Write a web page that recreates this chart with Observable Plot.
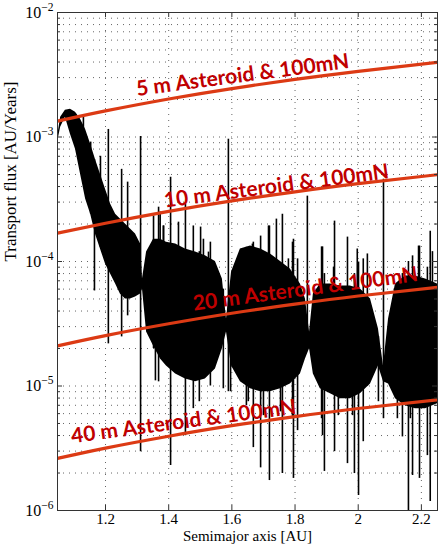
<!DOCTYPE html>
<html><head><meta charset="utf-8">
<script src="https://cdn.jsdelivr.net/npm/d3@7"></script>
<script src="https://cdn.jsdelivr.net/npm/@observablehq/plot@0.6"></script>
<style>body{margin:0;background:#fff}</style>
</head><body><div id="chart"></div>
<script>
// ---- tick values ----
const xTicks = [1.2, 1.4, 1.6, 1.8, 2.0, 2.2];
const yTicks = [1e-6, 1e-5, 1e-4, 1e-3, 1e-2];
const yTickExp = ["\u22126", "\u22125", "\u22124", "\u22123", "\u22122"];
const yMinorMult = [2, 3, 4, 5, 6, 7, 8, 9];

// ---- black transport-flux trace: dense envelope ----
const envX = [1.048,1.058,1.073,1.089,1.105,1.121,1.137,1.153,1.168,1.184,1.2,1.216,1.232,1.247,1.263,1.279,1.295,1.311,1.317,1.33,1.352,1.374,1.393,1.422,1.453,1.485,1.516,1.548,1.57,1.583,1.599,1.627,1.659,1.691,1.722,1.754,1.785,1.817,1.833,1.846,1.858,1.88,1.912,1.944,1.975,2.007,2.039,2.064,2.08,2.096,2.118,2.149,2.181,2.213,2.251];
const envHi = [1.0e-3,1.44e-3,1.64e-3,1.67e-3,1.58e-3,1.39e-3,1.15e-3,8.75e-4,6.63e-4,5.03e-4,3.81e-4,2.89e-4,2.4e-4,2.19e-4,2.0e-4,1.82e-4,1.66e-4,1.38e-4,7.24e-5,1.19e-4,1.51e-4,1.51e-4,1.43e-4,1.38e-4,1.26e-4,1.19e-4,1.11e-4,1.0e-4,7.24e-5,3.46e-5,8.24e-5,1.26e-4,1.33e-4,1.26e-4,1.15e-4,1.0e-4,8.7e-5,6.6e-5,5.0e-5,2.72e-5,5.48e-5,6.6e-5,6.6e-5,6.37e-5,6.37e-5,6.0e-5,5.0e-5,2.88e-5,1.45e-5,3.46e-5,6.6e-5,7.65e-5,7.65e-5,7.24e-5,6.6e-5];
const envLo = [9.0e-4,1.2e-3,1.44e-3,1.05e-3,7.98e-4,5.03e-4,3.17e-4,2.4e-4,1.66e-4,1.26e-4,9.55e-5,7.94e-5,6.6e-5,5.48e-5,5.0e-5,5.0e-5,5.19e-5,5.48e-5,6.0e-5,2.72e-5,2.1e-5,1.65e-5,1.45e-5,1.25e-5,1.14e-5,1.08e-5,1.14e-5,1.37e-5,1.99e-5,2.72e-5,1.45e-5,1.08e-5,9.5e-6,9.0e-6,9.0e-6,9.5e-6,1.04e-5,1.25e-5,1.65e-5,1.99e-5,1.25e-5,9.5e-6,8.67e-6,7.9e-6,7.9e-6,8.67e-6,1.04e-5,1.45e-5,1.08e-5,1.04e-5,7.9e-6,6.95e-6,6.58e-6,6.58e-6,7.2e-6];

// ---- black trace: individual spikes (x, top, bottom) ----
const spikeX  = [1.105,1.130,1.153,1.165,1.184,1.209,1.251,1.270,1.311,1.352,1.368,1.383,1.406,1.453,1.478,1.497,1.510,1.532,1.589,1.646,1.659,1.668,1.691,1.719,1.760,1.779,1.795,1.808,1.839,1.887,1.893,1.925,1.966,1.988,1.997,2.001,2.016,2.029,2.080,2.140,2.159,2.172,2.194,2.219,2.228,
                 1.358,1.373,1.384,1.431,1.437,1.475,1.501,1.526,1.573,1.596,1.652,1.665,1.700,1.716,1.741,1.754,1.792,1.884,1.922,1.937,1.982,2.064,2.124,2.165,2.191,2.235];
const spikeHi = [1.52e-3,1.44e-3,9.1e-4,6.6e-4,7.0e-4,1.15e-3,5.5e-4,4.34e-4,1.01e-3,2.32e-4,2.73e-4,1.93e-4,4.76e-4,2.89e-4,1.93e-4,1.2e-4,1.51e-4,1.43e-4,9.6e-4,1.3e-4,1.19e-4,1.43e-4,1.6e-4,1.93e-4,2.4e-4,1.05e-4,1.51e-4,1.05e-4,3.35e-4,1.31e-4,8e-5,2.11e-4,1.57e-4,8e-5,1.26e-4,9.9e-5,1.05e-4,1.15e-4,4.58e-4,8e-5,1.0e-4,1.11e-4,1.33e-4,9e-5,1.75e-4,
                 1.2e-4,2.5e-4,1.93e-4,2.07e-4,9e-5,8e-5,1.89e-4,1.19e-4,6e-5,5e-5,9e-5,1.38e-4,8e-5,1.93e-4,2.19e-4,8e-5,1.43e-4,1.31e-4,9e-5,6e-5,5e-5,2.5e-5,4e-5,5e-5,1.33e-4,1.2e-4];
const spikeLo = [9e-4,6e-4,2.4e-4,5.8e-5,1.3e-4,2.18e-5,2.48e-5,3.66e-5,2.97e-6,2.0e-5,1.08e-5,1.65e-5,2.3e-6,3.99e-6,6.58e-6,7.48e-6,1.2e-5,1.0e-5,9.0e-6,6.95e-6,1.0e-5,3.2e-6,2.2e-6,1.74e-6,1.98e-6,1.2e-5,1.81e-6,4.38e-6,2.1e-5,3.99e-6,2.06e-6,2.97e-6,2.38e-6,1.98e-6,1e-5,1.32e-6,3.57e-6,1e-5,5.46e-6,3.9e-6,1.0e-6,1.91e-6,1.81e-6,2.76e-6,1.18e-6,
                 1.1e-5,4e-5,4e-5,4e-5,1.33e-5,1.75e-5,4e-5,4e-5,9.5e-6,9.0e-6,7.48e-6,3e-5,5.78e-6,3e-5,3e-5,6.2e-6,5.46e-6,5.46e-6,3e-5,5.78e-6,5.78e-6,7.48e-6,5.46e-6,5.46e-6,3e-5,3e-5];

// ---- red thrust-limit curves ----
const curveX = [1.048, 1.2, 1.4, 1.6, 1.8, 2.0, 2.251];
const flux5m  = [1.34e-3, 1.62e-3, 2.02e-3, 2.45e-3, 2.9e-3, 3.37e-3, 3.98e-3];
const flux10m = [1.69e-4, 2.03e-4, 2.53e-4, 3.07e-4, 3.63e-4, 4.22e-4, 4.98e-4];
const flux20m = [2.1e-5, 2.54e-5, 3.16e-5, 3.84e-5, 4.54e-5, 5.28e-5, 6.2e-5];
const flux40m = [2.62e-6, 3.17e-6, 3.95e-6, 4.8e-6, 5.68e-6, 6.6e-6, 7.75e-6];
const curveNames = ["5 m Asteroid & 100mN", "10 m Asteroid & 100mN", "20 m Asteroid & 100mN", "40 m Asteroid & 100mN"];
const labelX = [1.634, 1.741, 1.833, 1.447];
const labelY = [3.13e-3, 4.03e-4, 6.0e-5, 5.17e-6];

// ---- tables ----
const envelope = envX.map((a, i) => ({a, hi: envHi[i], lo: envLo[i]}));
const spikes = spikeX.map((a, i) => ({a, hi: spikeHi[i], lo: spikeLo[i]}));
const fluxSets = [flux5m, flux10m, flux20m, flux40m];
const curves = fluxSets.flatMap((arr, s) => arr.map((v, i) => ({a: curveX[i], v, s: curveNames[s]})));
const labels = curveNames.map((t, i) => ({t, a: labelX[i], v: labelY[i]}));
const yMinor = yTicks.slice(0, -1).flatMap(t => yMinorMult.map(m => t * m));
const yAll = yTicks.concat(yMinor);

const W = 440, H = 550, ML = 57, MR = 3, MT = 12, MB = 40;
const PW = W - ML - MR, PH = H - MT - MB;

const chart = Plot.plot({
  width: W, height: H,
  marginLeft: ML, marginRight: MR, marginTop: MT, marginBottom: MB,
  style: {fontFamily: "'Liberation Serif', 'Times New Roman', serif", fontSize: "15px", background: "#fff", color: "#000", overflow: "visible"},
  x: {domain: [1.048, 2.251]},
  y: {type: "log", domain: [1e-6, 1e-2]},
  marks: [
    Plot.gridY(yAll, {stroke: "#666", strokeOpacity: 1, strokeDasharray: "1,5"}),
    Plot.gridX(xTicks, {stroke: "#666", strokeOpacity: 1, strokeDasharray: "1,5"}),
    Plot.areaY(envelope, {x: "a", y1: "lo", y2: "hi", fill: "#000", clip: true}),
    Plot.ruleX(spikes, {x: "a", y1: "lo", y2: "hi", stroke: "#000", strokeWidth: 1.6, clip: true}),
    Plot.line(curves, {x: "a", y: "v", z: "s", stroke: "#dc3a14", strokeWidth: 3.2, curve: "natural", clip: true}),
    Plot.text(labels, {x: "a", y: "v", text: "t", rotate: -7.5, fill: "#c00000", fontWeight: "bold", fontSize: 21, fontFamily: "Lato, 'Open Sans', sans-serif"}),
    // inward tick marks
    Plot.tickY(yTicks, {y: d => d, insetRight: PW - 5, stroke: "#333"}),
    Plot.tickY(yTicks, {y: d => d, insetLeft: PW - 5, stroke: "#333"}),
    Plot.tickY(yMinor, {y: d => d, insetRight: PW - 3, stroke: "#333"}),
    Plot.tickY(yMinor, {y: d => d, insetLeft: PW - 3, stroke: "#333"}),
    Plot.tickX(xTicks, {x: d => d, insetBottom: PH - 5, stroke: "#333"}),
    Plot.tickX(xTicks, {x: d => d, insetTop: PH - 5, stroke: "#333"}),
    Plot.frame({stroke: "#333"}),
    Plot.axisY(yTicks, {tickSize: 0, tickPadding: 4, fontSize: 16, tickFormat: d => "10^" + yTickExp[yTicks.indexOf(d)], label: null}),
    Plot.axisX(xTicks, {tickSize: 0, tickPadding: 3, fontSize: 15, tickFormat: d => String(+d.toFixed(1)), label: null}),
    Plot.text(["Semimajor axis [AU]"], {frameAnchor: "bottom", dy: 30.5, fontSize: 15}),
    Plot.text(["Transport flux [AU/Years]"], {frameAnchor: "left", dx: -47, rotate: -90, fontSize: 17})
  ]
});

d3.select(chart).selectAll('g[aria-label="y-axis tick label"] text').each(function () {
  const parts = this.textContent.split("^");
  const sel = d3.select(this);
  sel.text(null);
  sel.append("tspan").text(parts[0]);
  sel.append("tspan").attr("dy", "-0.6em").attr("font-size", "0.72em").text(parts[1]);
});

document.getElementById("chart").appendChild(chart);
</script>
</body></html>
